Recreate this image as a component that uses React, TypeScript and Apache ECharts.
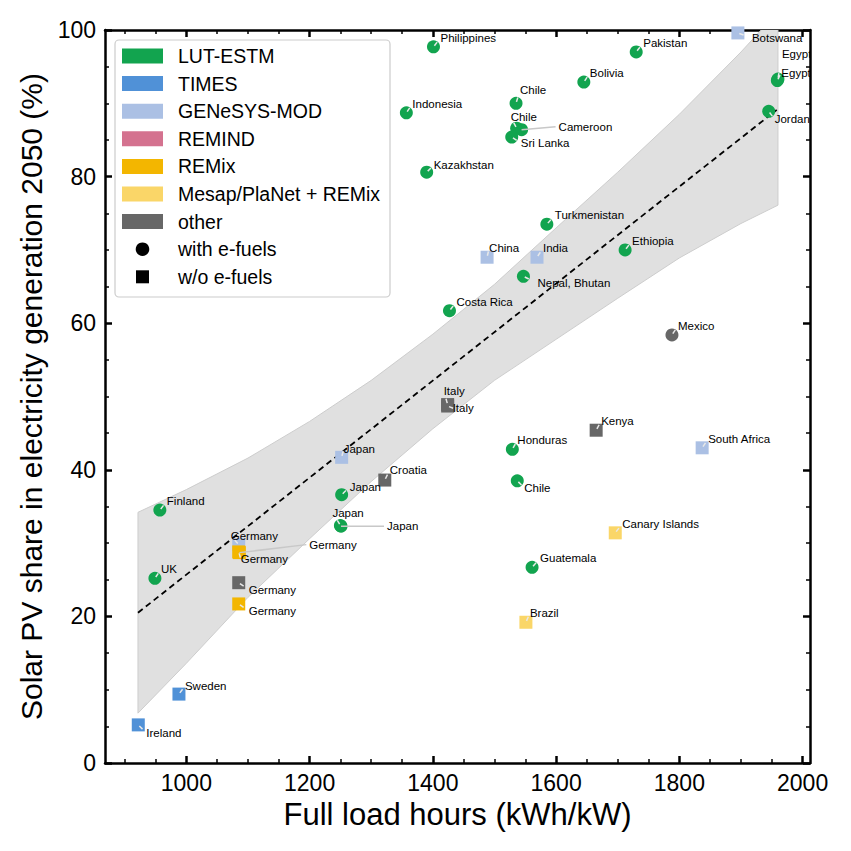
import React, { useEffect, useRef } from "react";
import * as echarts from "echarts";

// ---------- data ----------
const categories = ["LUT-ESTM", "TIMES", "GENeSYS-MOD", "REMIND", "REMix", "Mesap/PlaNet + REMix", "other"];
const shapeLegend = ["with e-fuels", "w/o e-fuels"];

const pointNames = [
  "Philippines", "Pakistan", "Bolivia", "Chile", "Indonesia", "Chile", "Cameroon", "Sri Lanka",
  "Kazakhstan", "Turkmenistan", "Ethiopia", "Nepal, Bhutan", "Costa Rica", "Egypt", "Egypt", "Jordan",
  "Honduras", "Chile", "Guatemala", "Japan", "Japan", "Japan", "Finland", "UK",
  "Sweden", "Ireland",
  "Botswana", "China", "India", "Japan", "South Africa", "Germany",
  "Germany", "Germany", "Germany",
  "Canary Islands", "Brazil",
  "Mexico", "Kenya", "Italy", "Italy", "Croatia", "Germany",
];
const pointHours = [
  1401, 1730, 1645, 1535, 1357, 1536, 1544, 1528,
  1390, 1585, 1712, 1547, 1427, 1960, 1959, 1945,
  1529, 1537, 1561, 1252, 1250, 1251, 957, 949,
  988, 922,
  1895, 1488, 1569, 1252, 1837, 1085,
  1085, 1086, 1085,
  1696, 1551,
  1788, 1665, 1424, 1424, 1322, 1085,
];
const pointShares = [
  97.7, 97.0, 92.9, 90.0, 88.7, 86.6, 86.4, 85.4,
  80.6, 73.5, 70.0, 66.4, 61.7, 93.3, 93.1, 88.9,
  42.8, 38.5, 26.7, 36.6, 32.4, 32.3, 34.5, 25.2,
  9.4, 5.2,
  99.6, 69.0, 69.0, 41.7, 43.0, 29.8,
  28.8, 28.7, 21.7,
  31.4, 19.2,
  58.4, 45.4, 48.9, 48.7, 38.6, 24.6,
];
// index into categories
const pointModel = [
  0, 0, 0, 0, 0, 0, 0, 0,
  0, 0, 0, 0, 0, 0, 0, 0,
  0, 0, 0, 0, 0, 0, 0, 0,
  1, 1,
  2, 2, 2, 2, 2, 2,
  4, 4, 4,
  5, 5,
  6, 6, 6, 6, 6, 6,
];
// 1 = with e-fuels (circle), 0 = w/o e-fuels (square)
const pointEfuels = [
  1, 1, 1, 1, 1, 1, 1, 1,
  1, 1, 1, 1, 1, 1, 1, 1,
  1, 1, 1, 1, 1, 1, 1, 1,
  0, 0,
  0, 0, 0, 0, 0, 0,
  0, 0, 0,
  0, 0,
  1, 0, 0, 0, 0, 0,
];

// regression line and confidence band
const regHours = [921.5, 1958];
const regShares = [20.5, 89.1];
const bandHours = [921.5, 1000, 1100, 1200, 1300, 1400, 1500, 1600, 1700, 1800, 1900, 1960];
const bandUpper = [34.2, 37.3, 41.6, 46.6, 52.2, 58.5, 65.3, 73.0, 80.6, 88.5, 97.0, 102.5];
const bandLower = [6.8, 13.6, 22.6, 30.6, 38.4, 45.6, 52.2, 57.8, 63.4, 68.9, 73.6, 76.1];

// tick labels
const xMajorTicks = [1000, 1200, 1400, 1600, 1800, 2000];
const xMinorTicks = [900, 950, 1050, 1100, 1150, 1250, 1300, 1350, 1450, 1500, 1550, 1650, 1700, 1750, 1850, 1900, 1950];

// ---------- styles ----------
const categoryColors = ["#12a44f", "#5091d7", "#abc0e4", "#d4728f", "#f3b600", "#fad668", "#676767"];
const FONT = "'Liberation Sans', Arial, Helvetica, sans-serif";
// label offsets in px relative to marker centre (text left, vertical middle)
const labelOffsets: number[][] = [
  [7, -9], [7, -9], [6, -9], [4, -13], [6, -9], [-6, -11], [37, -3], [9, 6],
  [7, -7], [8, -9], [7, -9], [14, 7], [7, -9], [4, -25], [4, -8], [6, 8],
  [5, -9], [7, 7], [8, -9], [8, -8], [-8, -13], [46, 0], [7, -9], [6, -9],
  [6, -8], [8, 8],
  [14, 5], [2, -9], [6, -9], [2, -8], [6, -9], [-8, -9],
  [2, 7], [70, -8], [10, 7],
  [7, -9], [4, -9],
  [6, -9], [5, -9], [-4, -14], [5, 2], [5, -10], [10, 7],
];
const leaderLines = [6, 21, 33];

export default function App() {
  const ref = useRef<HTMLDivElement>(null);
  useEffect(() => {
    if (!ref.current) return;
    const chart = echarts.init(ref.current, null, { renderer: "svg" });

    const gridLeft = 105, gridTop = 30, gridRight = 41, gridBottom = 88;

    const axisCommon = {
      type: "value",
      min: 868,
      max: 2012,
      splitLine: { show: false },
    };

    const xAxes: any[] = [
      {
        ...axisCommon,
        position: "bottom",
        axisLine: { show: true, onZero: false, lineStyle: { color: "#000", width: 2.5 } },
        axisTick: { show: true, inside: true, length: 7, customValues: xMajorTicks, lineStyle: { color: "#000", width: 2.5 } },
        axisLabel: {
          show: true,
          customValues: xMajorTicks,
          formatter: (v: number) => String(v),
          color: "#000",
          fontSize: 23,
          fontFamily: FONT,
          margin: 8,
        },
        name: "Full load hours (kWh/kW)",
        nameLocation: "middle",
        nameGap: 35,
        nameTextStyle: { color: "#000", fontSize: 31, fontFamily: FONT },
      },
      {
        ...axisCommon,
        position: "bottom",
        axisLine: { show: false, onZero: false },
        axisTick: { show: true, inside: true, length: 4, customValues: xMinorTicks, lineStyle: { color: "#000", width: 1.5 } },
        axisLabel: { show: false },
      },
      {
        ...axisCommon,
        position: "top",
        axisLine: { show: true, onZero: false, lineStyle: { color: "#000", width: 2.5 } },
        axisTick: { show: true, inside: true, length: 7, customValues: xMajorTicks, lineStyle: { color: "#000", width: 2.5 } },
        axisLabel: { show: false },
      },
      {
        ...axisCommon,
        position: "top",
        axisLine: { show: false, onZero: false },
        axisTick: { show: true, inside: true, length: 4, customValues: xMinorTicks, lineStyle: { color: "#000", width: 1.5 } },
        axisLabel: { show: false },
      },
    ];

    const yCommon = {
      type: "value",
      min: 0,
      max: 100,
      interval: 20,
      splitLine: { show: false },
      minorTick: { show: true, splitNumber: 4, length: 4, lineStyle: { color: "#000", width: 1.5 } },
      minorSplitLine: { show: false },
    };
    const yAxes: any[] = [
      {
        ...yCommon,
        position: "left",
        axisLine: { show: true, onZero: false, lineStyle: { color: "#000", width: 2.5 } },
        axisTick: { show: true, inside: true, length: 7, lineStyle: { color: "#000", width: 2.5 } },
        axisLabel: { show: true, formatter: (v: number) => String(v), color: "#000", fontSize: 23, fontFamily: FONT, margin: 9 },
        name: "Solar PV share in electricity generation 2050 (%)",
        nameLocation: "middle",
        nameGap: 53,
        nameTextStyle: { color: "#000", fontSize: 30, fontFamily: FONT },
      },
      {
        ...yCommon,
        position: "right",
        axisLine: { show: true, onZero: false, lineStyle: { color: "#000", width: 2.5 } },
        axisTick: { show: true, inside: true, length: 7, lineStyle: { color: "#000", width: 2.5 } },
        axisLabel: { show: false },
      },
    ];

    const scatterSeries = categories.map((name, k) => ({
      type: "scatter",
      name,
      xAxisIndex: 0,
      yAxisIndex: 0,
      symbolSize: 13,
      z: 4,
      itemStyle: { color: categoryColors[k], opacity: 1 },
      data: pointHours
        .map((h, i) => ({ i, h }))
        .filter(({ i }) => pointModel[i] === k)
        .map(({ i, h }) => ({ value: [h, pointShares[i]], symbol: pointEfuels[i] ? "circle" : "rect" })),
    }));

    const bandSeries = {
      type: "custom",
      xAxisIndex: 0,
      yAxisIndex: 0,
      clip: true,
      silent: true,
      z: 1,
      data: [[bandHours[0], bandLower[0]]],
      renderItem: (_params: any, api: any) => {
        const up = bandHours.map((h, i) => api.coord([h, bandUpper[i]]));
        const lo = bandHours.map((h, i) => api.coord([h, bandLower[i]])).reverse();
        return {
          type: "polygon",
          shape: { points: [...up, ...lo] },
          style: { fill: "#e0e0e0", stroke: "#cdcdcd", lineWidth: 1 },
        };
      },
    };

    const regSeries = {
      type: "line",
      xAxisIndex: 0,
      yAxisIndex: 0,
      z: 3,
      symbol: "none",
      silent: true,
      data: regHours.map((h, i) => [h, regShares[i]]),
      lineStyle: { color: "#000", width: 1.8, type: [6, 4] },
    };

    const labelSeries = {
      type: "custom",
      xAxisIndex: 0,
      yAxisIndex: 0,
      clip: true,
      silent: true,
      z: 6,
      data: pointHours.map((h, i) => [h, pointShares[i]]),
      encode: { x: 0, y: 1 },
      renderItem: (params: any, api: any) => {
        const i = params.dataIndex;
        const p = api.coord([pointHours[i], pointShares[i]]);
        const [dx, dy] = labelOffsets[i];
        const tx = p[0] + dx;
        const ty = p[1] + dy;
        const children: any[] = [];
        if (leaderLines.includes(i)) {
          children.push({
            type: "line",
            shape: { x1: p[0], y1: p[1], x2: tx - 3, y2: ty },
            style: { stroke: "#c8c8c8", lineWidth: 1.5 },
          });
        } else {
          const a = Math.atan2(dy, dx);
          children.push({
            type: "line",
            shape: { x1: p[0] + 1.5 * Math.cos(a), y1: p[1] + 1.5 * Math.sin(a), x2: p[0] + 6 * Math.cos(a), y2: p[1] + 6 * Math.sin(a) },
            style: { stroke: "#e8e8e8", lineWidth: 1.5 },
          });
        }
        children.push({
          type: "text",
          x: tx,
          y: ty,
          style: {
            text: pointNames[i],
            fill: "#000",
            fontSize: 11.5,
            fontFamily: FONT,
            align: "left",
            verticalAlign: "middle",
          },
        });
        return { type: "group", children };
      },
    };

    // legend drawn as graphic
    const lgX = 115, lgY = 40, rowH = 27.6, row0 = 56;
    const legendEls: any[] = [
      {
        type: "rect",
        shape: { x: lgX, y: lgY, width: 275, height: 257, r: 4 },
        style: { fill: "rgba(255,255,255,0.85)", stroke: "#cccccc", lineWidth: 1.2 },
        z: 10,
      },
    ];
    categories.forEach((c, k) => {
      const cy = row0 + k * rowH;
      legendEls.push({
        type: "rect",
        shape: { x: 122, y: cy - 7.5, width: 41, height: 15 },
        style: { fill: categoryColors[k] },
        z: 11,
      });
      legendEls.push({
        type: "text",
        x: 178,
        y: cy,
        style: { text: c, fill: "#000", fontSize: 19.5, fontFamily: FONT, verticalAlign: "middle", align: "left" },
        z: 11,
      });
    });
    shapeLegend.forEach((s, j) => {
      const cy = row0 + (categories.length + j) * rowH;
      if (j === 0) {
        legendEls.push({ type: "circle", shape: { cx: 142.5, cy, r: 6.8 }, style: { fill: "#000" }, z: 11 });
      } else {
        legendEls.push({ type: "rect", shape: { x: 136, y: cy - 6.5, width: 13, height: 13 }, style: { fill: "#000" }, z: 11 });
      }
      legendEls.push({
        type: "text",
        x: 178,
        y: cy,
        style: { text: s, fill: "#000", fontSize: 19.5, fontFamily: FONT, verticalAlign: "middle", align: "left" },
        z: 11,
      });
    });

    chart.setOption({
      animation: false,
      backgroundColor: "#ffffff",
      textStyle: { fontFamily: FONT },
      grid: { left: gridLeft, top: gridTop, right: gridRight, bottom: gridBottom, containLabel: false, outerBoundsMode: "none" },
      xAxis: xAxes,
      yAxis: yAxes,
      series: [bandSeries, regSeries, ...scatterSeries, labelSeries],
      graphic: { elements: legendEls },
    } as any);

    return () => chart.dispose();
  }, []);

  return (
    <div
      ref={ref}
      style={{ position: "fixed", left: 0, top: 0, width: 851, height: 851, background: "#fff" }}
    />
  );
}
